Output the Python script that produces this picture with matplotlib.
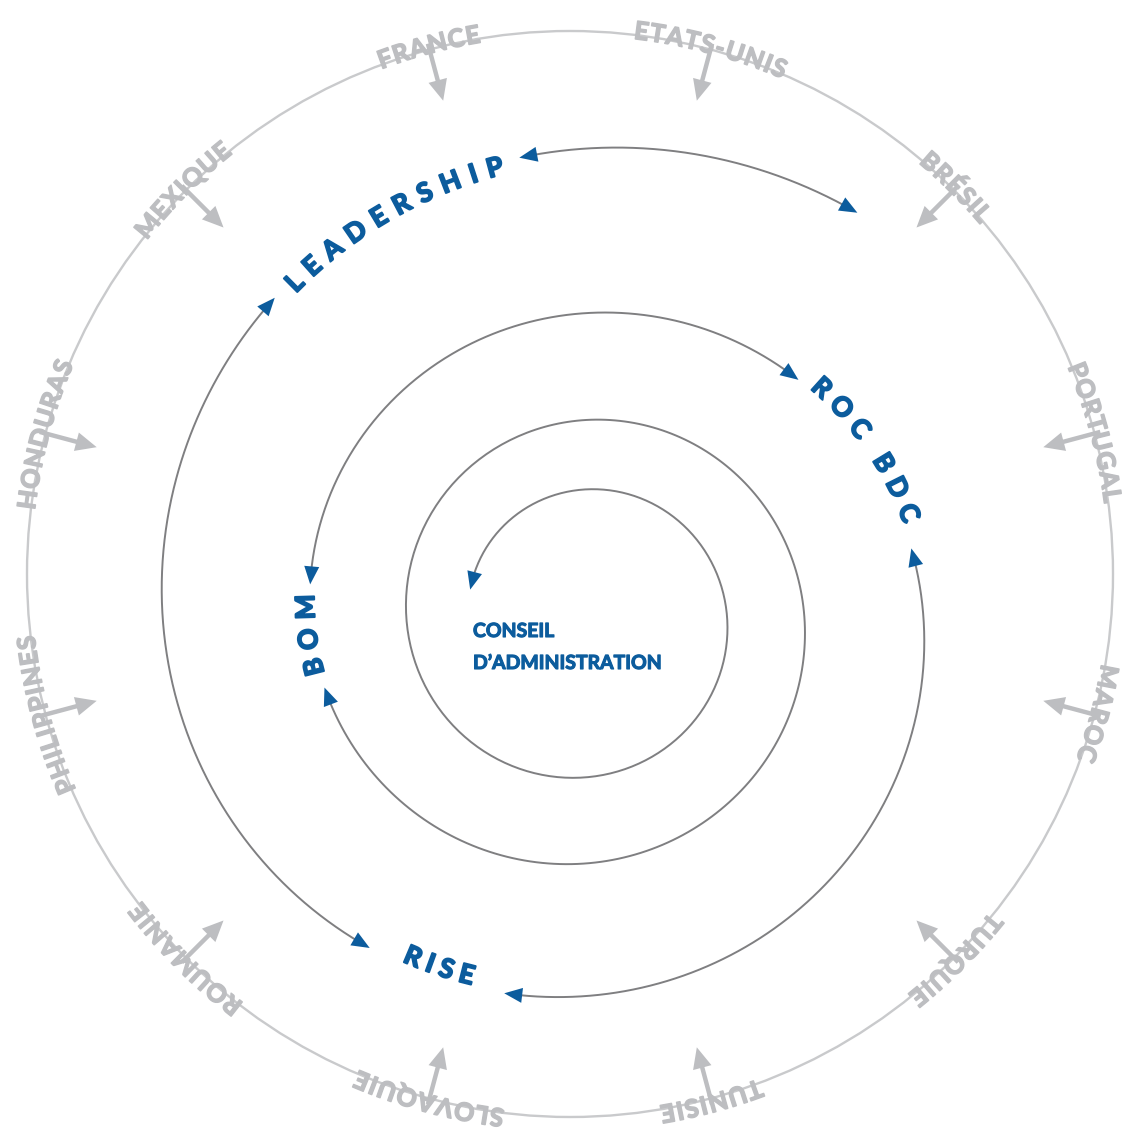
import math
import numpy as np
import matplotlib
matplotlib.use("Agg")
import matplotlib.pyplot as plt
import matplotlib.patheffects as pe
from matplotlib.patches import Circle, Polygon
from matplotlib.textpath import TextPath
from matplotlib.font_manager import FontProperties

W, H = 1126, 1137

# countries round the ring, angle in degrees clockwise from 12 o'clock
countries = ["ETATS-UNIS", "BRÉSIL", "PORTUGAL", "MAROC", "TURQUIE", "TUNISIE",
             "SLOVAQUIE", "ROUMANIE", "PHILIPPINES", "HONDURAS", "MEXIQUE", "FRANCE"]
country_deg = [15, 45, 75, 105, 135, 165, 195, 225, 255, 285, 315, 345]

# levels on the spiral, inside -> out (angle along the spiral, degrees)
levels = ["BOM", "ROC BDC", "RISE", "LEADERSHIP"]
level_deg = [626, 779, 922.5, 1054]
# spiral pieces between the labels
arc_from = [-76, 637, 798, 933, 1072]
arc_to = [615, 762, 912, 1036, 1114]
board = ["CONSEIL", "D\u2019ADMINISTRATION"]

# layout / style
level_off = [5, 10, -12, -3]      # radial shift of the label off the line
level_track = [9, 9, 6, 10]
level_flip = [False, False, True, False]

BLUE = "#0c5c9d"
LINE = "#7f7f81"
GREY = "#bdbec1"
RING = "#c9cacc"
FAM = ["Lato", "DejaVu Sans"]

ring_c = (570, 574)
ring_r = 543
sp_c = (584, 618)
sp_a = 128.5
sp_q = 1.54
sp_k = math.log(sp_q) / (2 * math.pi)


def sp_r(deg):
    return sp_a * sp_q ** (np.asarray(deg) / 360.0)


def polar(c, r, deg):
    t = np.radians(deg)
    return c[0] + r * np.sin(t), c[1] - r * np.cos(t)


def tri(ax, tip, back, length, width, color, z=4):
    tip = np.array(tip, dtype=float)
    back = np.array(back, dtype=float)
    d = tip - back
    d /= np.linalg.norm(d)
    n = np.array([-d[1], d[0]])
    b = tip - d * length
    ax.add_patch(Polygon([tip, b + n * width / 2, b - n * width / 2],
                         closed=True, fc=color, ec="none", zorder=z))


def advance(ch, em, fp):
    # glyph advance = width of H?H minus width of HH
    full = TextPath((0, 0), "H" + ch + "H", size=em, prop=fp).get_extents().width
    base = TextPath((0, 0), "HH", size=em, prop=fp).get_extents().width
    return full - base


def curved_text(ax, s, deg_c, c, rad, k, off, size, color, track, flip=False, fat=1.1):
    fp = FontProperties(family=FAM, weight="bold")
    em = size * 100 / 72.0
    w = [advance(ch, em, fp) for ch in s]
    pos = [0.0]
    for i in range(1, len(s)):
        pos.append(pos[-1] + w[i - 1] / 2 + track + w[i] / 2)
    mid = pos[-1] / 2
    r0 = float(rad(deg_c)) + off
    tilt = math.degrees(math.atan(k))
    cap = 0.72 * em
    for ch, p in zip(s, pos):
        if ch == " ":
            continue
        d = math.degrees((p - mid) / r0)
        deg = deg_c - d if flip else deg_c + d
        r = float(rad(deg)) + off
        x, y = polar(c, r, deg)
        rot = -deg + tilt + (180 if flip else 0)
        t = math.radians(rot)
        ax.text(x + cap / 2 * math.sin(t), y + cap / 2 * math.cos(t), ch,
                rotation=rot, rotation_mode="anchor", ha="center",
                va="baseline", fontproperties=fp, fontsize=size, color=color,
                zorder=5, path_effects=[pe.withStroke(linewidth=fat, foreground=color)])


fig = plt.figure(figsize=(W / 100, H / 100), dpi=100)
ax = fig.add_axes([0, 0, 1, 1])
ax.set_xlim(0, W)
ax.set_ylim(H, 0)
ax.axis("off")

# outer ring + countries
ax.add_patch(Circle(ring_c, ring_r, fill=False, ec=RING, lw=1.7, zorder=1))
for name, deg in zip(countries, country_deg):
    x0, y0 = polar(ring_c, ring_r + 6, deg)
    x1, y1 = polar(ring_c, ring_r - 36, deg)
    ax.plot([x0, x1], [y0, y1], color=GREY, lw=3.2, solid_capstyle="butt", zorder=2)
    tri(ax, polar(ring_c, ring_r - 53, deg), (x0, y0), 21, 19, GREY, z=2)
    curved_text(ax, name, deg, ring_c, lambda d: ring_r, 0, 5, 18, GREY, 1.5)

# spiral
for a0, a1 in zip(arc_from, arc_to):
    dl = math.degrees(18 / float(sp_r(a0)))
    dr = math.degrees(18 / float(sp_r(a1)))
    t = np.linspace(a0 + dl * 0.6, a1 - dr * 0.6, 500)
    x, y = polar(sp_c, sp_r(t), t)
    ax.plot(x, y, color=LINE, lw=1.4, zorder=3)
    tri(ax, polar(sp_c, sp_r(a0), a0), polar(sp_c, sp_r(a0 + dl), a0 + dl), 18, 15, BLUE)
    tri(ax, polar(sp_c, sp_r(a1), a1), polar(sp_c, sp_r(a1 - dr), a1 - dr), 18, 15, BLUE)

for name, deg, off, trk, flip in zip(levels, level_deg, level_off, level_track, level_flip):
    curved_text(ax, name, deg, sp_c, sp_r, sp_k, off, 19, BLUE, trk, flip, fat=1.4)

# centre
for i, line in enumerate(board):
    ax.text(473, 637 + 32 * i, line, ha="left", va="baseline", fontsize=14,
            fontweight="bold", family=FAM, color=BLUE,
            path_effects=[pe.withStroke(linewidth=0.8, foreground=BLUE)])

fig.savefig("out.png", dpi=100)
